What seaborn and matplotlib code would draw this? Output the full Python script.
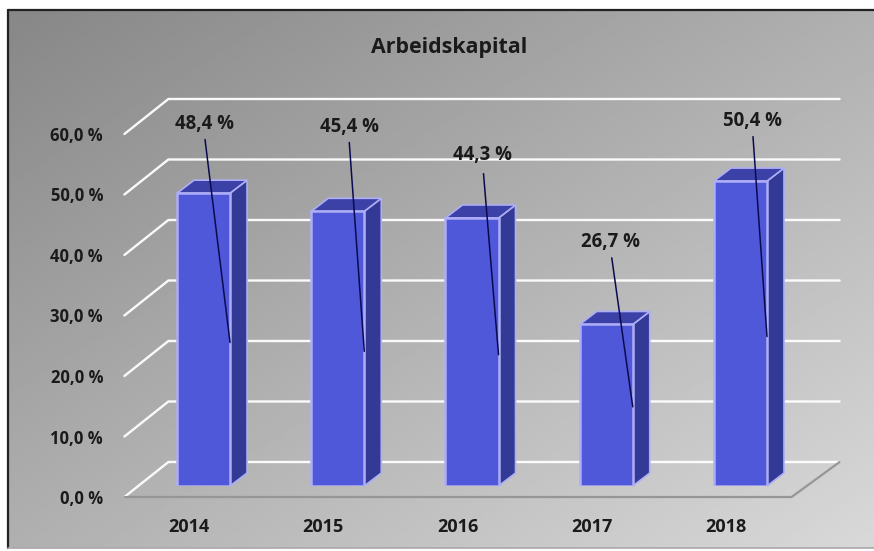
import matplotlib
matplotlib.use('Agg')
import matplotlib.pyplot as plt
from matplotlib.patches import Polygon
from matplotlib.transforms import Affine2D
import numpy as np
import seaborn as sns

years = ['2014', '2015', '2016', '2017', '2018']
values = [48.4, 45.4, 44.3, 26.7, 50.4]
value_labels = ['48,4 %', '45,4 %', '44,3 %', '26,7 %', '50,4 %']
y_ticks = [0, 10, 20, 30, 40, 50, 60]
y_tick_labels = ['0,0 %', '10,0 %', '20,0 %', '30,0 %', '40,0 %', '50,0 %', '60,0 %']

# where the labels and their leader lines sit, pixels from the bar's anchor
label_offsets = [(-26, 219), (-15, 224), (-16, 200), (-22, 165), (-14, 216)]
leader_offsets = [(-25, 203), (-15, 209), (-15, 181), (-21, 149), (-14, 200)]

W, H = 874, 551
PX_X = 134.25       # pixels per category
PX_Y = 6.05         # pixels per percent point

BAR_FACE = '#4f58d8'
BAR_EDGE = '#aeaef6'
BAR_TOP = '#3c41a8'
BAR_SIDE = '#333a96'
TEXT = '#1a1a1a'

sns.set_theme(style='white')
plt.rcParams['font.family'] = ['Open Sans', 'DejaVu Sans']

fig = plt.figure(figsize=(W / 100, H / 100), dpi=100, facecolor='white')

# gradient panel behind everything
bg = fig.add_axes([0, 0, 1, 1], zorder=0)
u, v = np.meshgrid(np.linspace(0, 1, 200), np.linspace(0, 1, 200))
shade = 0.53 + 0.32 * (u + v) / 2
bg.imshow(shade, extent=(8, W, 548, 10), cmap='gray', vmin=0, vmax=1,
          aspect='auto', interpolation='bilinear')
bg.set_xlim(0, W)
bg.set_ylim(H, 0)
bg.axis('off')
bg.plot([8, 8], [548, 10], color='#222222', lw=1.6)
bg.plot([8, W], [10, 10], color='#222222', lw=1.6)
bg.plot([8, W], [548, 548], color='#a8a8a8', lw=1.2)
bg.text(449, 47, 'Arbeidskapital', ha='center', va='center', fontsize=15.4,
        fontweight='bold', color=TEXT)

ax = fig.add_axes([136.4 / W, (H - 486) / H, 671.2 / W, 363 / H], zorder=1)
ax.patch.set_alpha(0)

sns.barplot(x=years, y=values, ax=ax, width=0.395, color=BAR_FACE, saturation=1,
            edgecolor=BAR_EDGE, linewidth=1.8, zorder=5)
ax.set_xlim(-0.5, 4.5)
ax.set_ylim(0, 60)
ax.set_xlabel('')
ax.set_ylabel('')
sns.despine(ax=ax, left=True, bottom=True)

# chart "depth": back wall and front edge relative to the bar plane
back_dx, back_dy = 32 / PX_X, 24 / PX_Y
front_dx, front_dy = -12 / PX_X, -11 / PX_Y
floor_dx = -16 / PX_X
x_min, x_max = ax.get_xlim()

for tick in y_ticks:
    ax.plot([x_min + front_dx, x_min + back_dx, x_max + back_dx],
            [tick + front_dy, tick + back_dy, tick + back_dy],
            color='white', lw=1.7, alpha=0.95, clip_on=False, zorder=2,
            solid_joinstyle='miter')

# floor edges
ax.plot([x_min + front_dx, x_max + floor_dx, x_max + back_dx],
        [front_dy, front_dy, back_dy], color='#969696', lw=1.6, clip_on=False,
        zorder=3, solid_joinstyle='miter')

# side and top faces of the bars
bar_dx, bar_dy = 17 / PX_X, 13 / PX_Y
for bar in ax.patches[:len(values)]:
    x0, x1, h = bar.get_x(), bar.get_x() + bar.get_width(), bar.get_height()
    ax.add_patch(Polygon([(x1, 0), (x1 + bar_dx, bar_dy), (x1 + bar_dx, h + bar_dy), (x1, h)],
                         facecolor=BAR_SIDE, edgecolor=BAR_EDGE, lw=1.2, clip_on=False, zorder=4))
    ax.add_patch(Polygon([(x0, h), (x0 + bar_dx, h + bar_dy), (x1 + bar_dx, h + bar_dy), (x1, h)],
                         facecolor=BAR_TOP, edgecolor=BAR_EDGE, lw=1.2, clip_on=False, zorder=4))

# data labels with leader lines down to the middle of each bar's front edge
for i, bar in enumerate(ax.patches[:len(values)]):
    anchor = (bar.get_x() + bar.get_width(), values[i] * 0.49)
    ax.annotate('', xy=anchor, xytext=leader_offsets[i], textcoords='offset pixels',
                arrowprops=dict(arrowstyle='-', color='#0a0a50', lw=1.1, shrinkA=0, shrinkB=0),
                zorder=8, annotation_clip=False)
    ax.annotate(value_labels[i], xy=anchor, xytext=label_offsets[i], textcoords='offset pixels',
                ha='center', va='center', fontsize=13.4, fontweight='bold', color=TEXT,
                zorder=9, annotation_clip=False)

ax.set_yticks(y_ticks)
ax.set_yticklabels(y_tick_labels, fontsize=12, fontweight='bold', color=TEXT)
ax.set_xticks(range(len(years)))
ax.set_xticklabels(years, fontsize=13, fontweight='bold', color=TEXT)
ax.tick_params(axis='both', length=0)
ax.tick_params(axis='y', pad=24)
ax.tick_params(axis='x', pad=23)

for label in ax.get_yticklabels():
    label.set_transform(label.get_transform() + Affine2D().translate(0, -11))
for label in ax.get_xticklabels():
    label.set_transform(label.get_transform() + Affine2D().translate(-14.5, 0))

fig.savefig('out.png', dpi=100, facecolor='white')
